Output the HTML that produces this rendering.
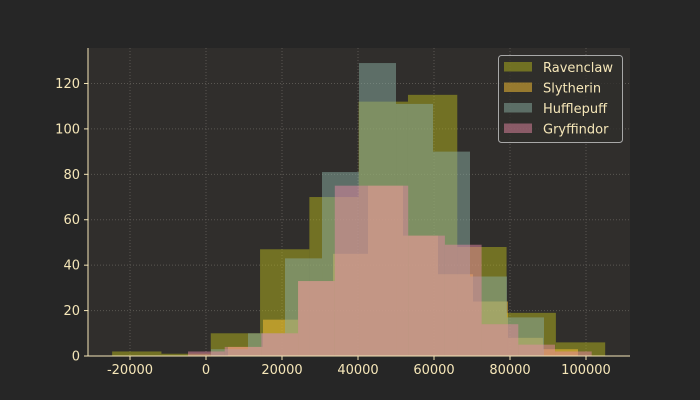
<!DOCTYPE html>
<html><head><meta charset="utf-8"><style>
body{margin:0;background:#262626;}
svg{display:block;font-family:"DejaVu Sans","Liberation Sans",sans-serif;}
</style></head><body>
<svg id="chart" width="700" height="400">
<rect width="700" height="400" fill="#262626"/>
<rect x="88" y="48" width="542" height="308" fill="#302e2c"/>
<g id="grid"></g><g id="bars"></g><g id="axes"></g><g id="legend"></g>
</svg>
<script>
const seriesNames = ["Ravenclaw","Slytherin","Hufflepuff","Gryffindor"];
const seriesColors = ["#b3b41c","#ffc634","#89aea2","#e588a4"];
const binStarts = [-24700, 5790, 1316, -4737];
const binWidths = [12975, 9210, 9737, 9658];
const ravenclawCounts = [2,1,10,47,70,112,115,48,19,6];
const slytherinCounts = [4,16,33,45,75,53,36,24,8,3];
const hufflepuffCounts = [3,10,43,81,129,111,90,35,17];
const gryffindorCounts = [2,4,10,33,75,75,53,49,14,5,2];
const allCounts = [ravenclawCounts, slytherinCounts, hufflepuffCounts, gryffindorCounts];
const xTicks = [-20000,0,20000,40000,60000,80000,100000];
const yTicks = [0,20,40,60,80,100,120];

const NS="http://www.w3.org/2000/svg";
const X0=88,X1=630,Y0=356,Y1=48;
function xs(v){return 206+v*3.8/1000;}
function ys(v){return 356-v*2.271;}
function mk(tag,attrs,parent){const e=document.createElementNS(NS,tag);for(const k in attrs)e.setAttribute(k,attrs[k]);parent.appendChild(e);return e;}
const grid=document.getElementById('grid'),bars=document.getElementById('bars'),axes=document.getElementById('axes'),legend=document.getElementById('legend');

xTicks.forEach(t=>{
  const l=mk('line',{x1:xs(t),x2:xs(t),y1:Y1,y2:Y0,stroke:'#5a5752','stroke-dasharray':'1,2','stroke-width':1},grid);
  
  
  const tk=mk('line',{x1:xs(t),x2:xs(t),y1:Y0,y2:Y0+4,stroke:'#f5e6b8'},axes);
  
  
  const tx=mk('text',{x:xs(t),y:Y0+18,fill:'#f5e6b8','font-size':13,'text-anchor':'middle'},axes);
  tx.textContent=String(t);
  
  
});
yTicks.forEach(t=>{
  const l=mk('line',{x1:X0,x2:X1,y1:ys(t),y2:ys(t),stroke:'#5a5752','stroke-dasharray':'1,2','stroke-width':1},grid);
  
  
  const tk=mk('line',{x1:X0-4,x2:X0,y1:ys(t),y2:ys(t),stroke:'#f5e6b8'},axes);
  
  
  const tx=mk('text',{x:X0-8,y:ys(t)+4.5,fill:'#f5e6b8','font-size':13,'text-anchor':'end'},axes);
  tx.textContent=String(t);
  
  
});

allCounts.forEach((counts,s)=>{
  counts.forEach((c,i)=>{
    const a=binStarts[s]+i*binWidths[s], b=a+binWidths[s];
    const r=mk('rect',{x:xs(a),y:ys(c),width:xs(b)-xs(a),height:Y0-ys(c),fill:seriesColors[s],'fill-opacity':0.5},bars);
    
    
  });
});

const ls=mk('line',{x1:X0,x2:X0,y1:Y1,y2:Y0,stroke:'#f5e6b8','stroke-width':1},axes);


const bs=mk('line',{x1:X0,x2:X1,y1:Y0,y2:Y0,stroke:'#f5e6b8','stroke-width':1},axes);



const box=mk('rect',{x:498.5,y:55.5,width:124,height:87,rx:3,fill:'#302e2c','fill-opacity':0.8,stroke:'#a8a8a8','stroke-width':1},legend);


seriesNames.forEach((n,s)=>{
  const y=62+s*20.5;
  const sw=mk('rect',{x:504,y:y,width:28,height:9.5,fill:seriesColors[s],'fill-opacity':0.5},legend);
  
  
  const t=mk('text',{x:543,y:y+10,fill:'#f5e6b8','font-size':13},legend);
  t.textContent=n;
  
  
});
</script>
</body></html>
